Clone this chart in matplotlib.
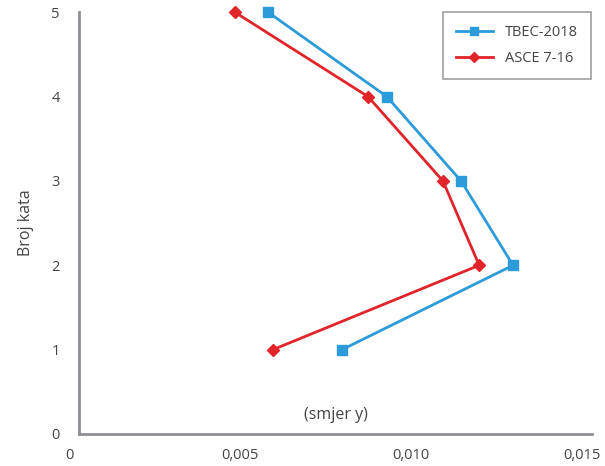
import numpy as np
import matplotlib
matplotlib.use('Agg')
import matplotlib.pyplot as plt
import matplotlib.transforms as mtransforms

# storey drift ratios (smjer y)
floors = [1, 2, 3, 4, 5]
tbec_2018 = [0.00769, 0.01269, 0.01117, 0.00900, 0.00553]
asce_7_16 = [0.00567, 0.01170, 0.01064, 0.00845, 0.00456]

x_ticks = [0, 0.005, 0.010, 0.015]
x_labels = ['0', '0,005', '0,010', '0,015']
y_ticks = [0, 1, 2, 3, 4, 5]

plt.rcParams['font.family'] = ['Open Sans', 'DejaVu Sans']

fig = plt.figure(figsize=(6.05, 4.66), dpi=100)
ax = fig.add_axes([0.1306, 0.0687, 0.848, 0.905])

ax.plot(tbec_2018, floors, color='#2b9bd9', lw=2, marker='s', ms=7,
        label='TBEC-2018', clip_on=False, zorder=3)
ax.plot(asce_7_16, floors, color='#e0242a', lw=2, marker='D', ms=6,
        label='ASCE 7-16', clip_on=False, zorder=3)

ax.set_xlim(0, 0.015)
ax.set_ylim(0, 5)
ax.set_xticks(x_ticks)
ax.set_xticklabels(x_labels)
ax.set_yticks(y_ticks)

for s in ['top', 'right']:
    ax.spines[s].set_visible(False)
for s in ['left', 'bottom']:
    ax.spines[s].set_color('#8e8e94')
    ax.spines[s].set_linewidth(2)

ax.tick_params(length=0, labelsize=10.5, colors='#444444', pad=10)
ax.tick_params(axis='y', pad=14)
# x labels in the original sit a bit left of their ticks
off = mtransforms.ScaledTranslation(-10 / 100, 0, fig.dpi_scale_trans)
for lab in ax.get_xticklabels():
    lab.set_transform(lab.get_transform() + off)

ax.set_ylabel('Broj kata', fontsize=11.5, color='#444444', labelpad=12)
ax.text(0.5, 0.045, '(smjer y)', transform=ax.transAxes, ha='center',
        va='center', fontsize=11.5, color='#444444')

leg = ax.legend(loc='upper right', bbox_to_anchor=(0.997, 1.0), fontsize=10.5,
                frameon=True, fancybox=False, borderpad=0.85, labelspacing=0.8,
                handlelength=2.6, handletextpad=0.8, markerscale=0.8,
                borderaxespad=0, labelcolor='#444444')
leg.get_frame().set_edgecolor('#888888')
leg.get_frame().set_linewidth(1.2)

fig.savefig('out.png', dpi=100)
